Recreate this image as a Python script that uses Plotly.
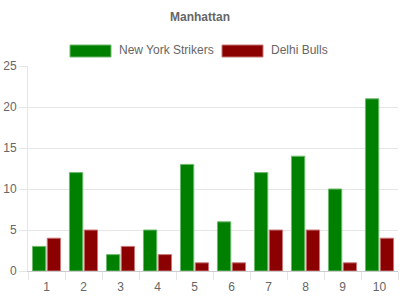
import plotly.graph_objects as go

overs = [str(i) for i in range(1, 11)]
ny_runs = [3, 12, 2, 5, 13, 6, 12, 14, 10, 21]
delhi_runs = [4, 5, 3, 2, 1, 1, 5, 5, 1, 4]
series_names = ["New York Strikers", "Delhi Bulls"]
fill_colors = ["#008000", "#8b0000"]
line_colors = ["rgba(110,185,110,1)", "rgba(200,120,120,1)"]
y_ticks = [0, 5, 10, 15, 20, 25]

FONT = "Liberation Sans, Arial, Helvetica, sans-serif"
GRID = "#e6e6e6"

fig = go.Figure()
for name, vals, fc, lc in zip(series_names, [ny_runs, delhi_runs], fill_colors, line_colors):
    fig.add_trace(go.Bar(x=overs, y=vals, name=name,
                         marker=dict(color=fc, line=dict(color=lc, width=1)),
                         showlegend=False))

# custom legend (wide boxes like the reference)
L, R, B, T = 28, 398, 271, 66
W, H = R - L, B - T
def px(x):
    return (x - L) / W
def py(y):
    return (B - y) / H

boxes = [(70, 111, 117), (222, 263, 269)]
shapes = []
annotations = []
for (x0, x1, tx), name, fc, lc in zip(boxes, series_names, fill_colors, line_colors):
    shapes.append(dict(type="rect", xref="paper", yref="paper",
                       x0=px(x0), x1=px(x1), y0=py(57), y1=py(45),
                       fillcolor=fc, line=dict(color=lc, width=1)))
    annotations.append(dict(xref="paper", yref="paper", x=px(tx), y=py(50.5),
                            xanchor="left", yanchor="middle", showarrow=False,
                            text=name, font=dict(family=FONT, size=12, color="#666")))

fig.update_layout(
    width=400, height=300,
    margin=dict(l=L, r=400 - R, t=T, b=300 - B),
    paper_bgcolor="white", plot_bgcolor="white",
    title=dict(text="Manhattan", x=0.5, xref="container", y=1 - 17 / 300,
               yref="container", xanchor="center", yanchor="middle",
               font=dict(family=FONT, size=12, color="#666", weight="bold")),
    barmode="group", bargap=0.2, bargroupgap=0.1,
    shapes=shapes, annotations=annotations,
    xaxis=dict(showgrid=False, ticks="outside", tickson="boundaries", ticklen=8,
               tickcolor=GRID, showline=True, linecolor="#cccccc",
               ticklabelstandoff=5,
               tickfont=dict(family=FONT, size=12, color="#666")),
    yaxis=dict(range=[0, 25], tickvals=y_ticks, gridcolor=GRID, showline=True,
               linecolor=GRID, ticks="outside", ticklen=8, tickcolor=GRID,
               zeroline=False,
               tickfont=dict(family=FONT, size=12, color="#666")),
)

fig.write_html("out.html")
